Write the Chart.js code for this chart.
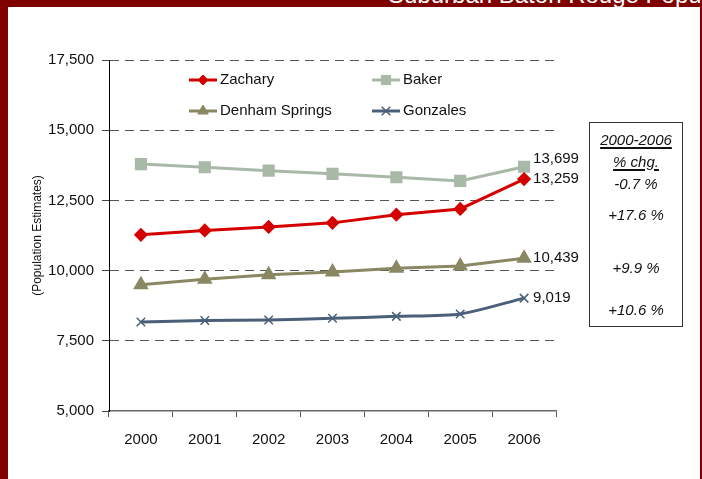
<!DOCTYPE html>
<html>
<head>
<meta charset="utf-8">
<script src="https://cdn.jsdelivr.net/npm/chart.js@4/dist/chart.umd.min.js"></script>
<style>
  html, body { margin: 0; padding: 0; }
  body { width: 702px; height: 479px; background: #800000; position: relative; overflow: hidden;
         font-family: 'Liberation Sans Narrow', 'Arial Narrow', 'Liberation Sans', sans-serif; }
  #panel { position: absolute; left: 8px; top: 7px; width: 692px; height: 472px; background: #fff; }
  #header { position: absolute; left: 388px; top: 0; height: 7px; width: 312px; overflow: hidden; }
  #header span { position: absolute; top: -19px; left: 0; color: #fff; font-size: 24px; white-space: nowrap;
                 font-family: 'Liberation Sans', sans-serif; }
  #wrap { position: absolute; left: 0; top: 0; width: 702px; height: 479px; }
  #chg { position: absolute; left: 589px; top: 122px; width: 92px; height: 203px; border: 1px solid #333;
         font-style: italic; font-size: 15px; color: #111; text-align: center; }
  #chg div { position: absolute; left: 0; width: 92px; }
  #chg u { text-decoration-thickness: 2px; text-underline-offset: 2px; }
</style>
</head>
<body>
<div id="header"><span>Suburban Baton Rouge Population</span></div>
<div id="panel"></div>
<div id="wrap"><canvas id="popChart" width="702" height="479"></canvas></div>
<div id="chg"></div>
<script>
// data
const years = ['2000', '2001', '2002', '2003', '2004', '2005', '2006'];
const zachary = [11275, 11430, 11555, 11700, 11990, 12195, 13259];
const baker = [13795, 13680, 13560, 13445, 13325, 13195, 13699];
const denham = [9499, 9690, 9855, 9950, 10080, 10165, 10439];
const gonzales = [8170, 8225, 8240, 8300, 8370, 8455, 9019];
const pctChange = ['-0.7 %', '+17.6 %', '+9.9 %', '+10.6 %'];
const yTicks = [5000, 7500, 10000, 12500, 15000, 17500];

const FONT = "'Liberation Sans Narrow', 'Arial Narrow', 'Liberation Sans', sans-serif";

// % change box
const chg = document.getElementById('chg');
const rows = [['<u>2000-2006</u>', 8], ['<u>% chg.</u>', 30]]
  .concat(pctChange.map((p, i) => [p, [52, 83, 136, 178][i]]));
rows.forEach(([t, top]) => {
  const d = document.createElement('div');
  d.style.top = top + 'px';
  d.innerHTML = t;
  chg.appendChild(d);
});

// legend in two columns inside the plot + end labels
const extras = {
  id: 'extras',
  afterDatasetsDraw(chart) {
    const ctx = chart.ctx;
    ctx.save();
    ctx.font = '15px ' + FONT;
    ctx.fillStyle = '#111';
    ctx.textBaseline = 'middle';
    ctx.textAlign = 'left';
    chart.data.datasets.forEach((ds, i) => {
      const meta = chart.getDatasetMeta(i);
      const last = meta.data[meta.data.length - 1];
      const v = ds.data[ds.data.length - 1];
      ctx.fillText(v.toLocaleString('en-US'), last.x + 9, last.y + ds.labelDy);
    });
    const cols = [189, 372], rowsY = [80, 111];
    chart.data.datasets.forEach((ds, i) => {
      const x = cols[i % 2], y = rowsY[Math.floor(i / 2)];
      ctx.strokeStyle = ds.borderColor;
      ctx.lineWidth = 3;
      ctx.beginPath(); ctx.moveTo(x, y); ctx.lineTo(x + 28, y); ctx.stroke();
      ctx.fillStyle = ds.pointBackgroundColor;
      ctx.strokeStyle = ds.pointBorderColor;
      ctx.lineWidth = ds.pointBorderWidth || 1;
      Chart.helpers.drawPoint(ctx, {
        pointStyle: ds.pointStyle, radius: ds.pointRadius, borderWidth: ds.pointBorderWidth || 1
      }, x + 14, y);
      ctx.fillStyle = '#111';
      ctx.fillText(ds.label, x + 31, y);
    });
    ctx.restore();
  }
};

new Chart(document.getElementById('popChart'), {
  type: 'line',
  data: {
    labels: years,
    datasets: [
      { label: 'Zachary', data: zachary, borderColor: '#d40000', backgroundColor: '#d40000',
        pointBackgroundColor: '#d40000', pointBorderColor: '#d40000', pointStyle: 'rectRot',
        pointRadius: 5, borderWidth: 3, labelDy: 0 },
      { label: 'Baker', data: baker, borderColor: '#a8b9a8', backgroundColor: '#a8b9a8',
        pointBackgroundColor: '#a8b9a8', pointBorderColor: '#a8b9a8', pointStyle: 'rect',
        pointRadius: 6.5, borderWidth: 3, labelDy: -8 },
      { label: 'Denham Springs', data: denham, borderColor: '#8a8763', backgroundColor: '#8a8763',
        pointBackgroundColor: '#8a8763', pointBorderColor: '#8a8763', pointStyle: 'triangle',
        pointRadius: 6, borderWidth: 3, labelDy: 0 },
      { label: 'Gonzales', data: gonzales, borderColor: '#4a6079', backgroundColor: '#4a6079',
        pointBackgroundColor: '#4a6079', pointBorderColor: '#4a6079', pointStyle: 'crossRot',
        pointRadius: 6, pointBorderWidth: 1.5, borderWidth: 3, tension: 0.25, labelDy: 0 }
    ]
  },
  options: {
    responsive: false,
    animation: false,
    layout: { padding: { top: 60, right: 146, bottom: 0, left: 0 } },
    plugins: { legend: { display: false }, tooltip: { enabled: false } },
    scales: {
      x: {
        offset: true,
        grid: { offset: true, drawOnChartArea: false, drawTicks: true, tickLength: 6, color: '#555' },
        border: { color: '#666', width: 1.5 },
        ticks: { font: { family: FONT, size: 15 }, color: '#111', padding: 14 },
        afterFit(s) { s.height = 68; }
      },
      y: {
        min: 5000, max: 17500,
        afterBuildTicks(s) { s.ticks = yTicks.map(v => ({ value: v })); },
        grid: {
          color: c => c.tick && c.tick.value === 5000 ? 'rgba(0,0,0,0)' : '#555',
          tickColor: '#444', tickLength: 7, tickBorderDash: []
        },
        border: { color: '#000', width: 1, dash: [9, 6] },
        ticks: { font: { family: FONT, size: 15 }, color: '#111', padding: 8,
                 callback: v => v.toLocaleString('en-US') },
        title: { display: true, text: '(Population Estimates)', font: { family: FONT, size: 12 },
                 color: '#111', padding: { top: 30, bottom: 0 } },
        afterFit(s) { s.width = 109; }
      }
    }
  },
  plugins: [extras]
});
</script>
</body>
</html>
